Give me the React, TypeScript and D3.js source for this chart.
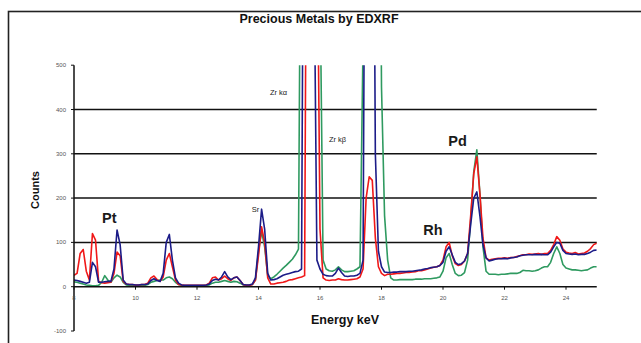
import React from 'react';
import * as d3 from 'd3';

const chartTitle = 'Precious Metals by EDXRF';
const xAxisTitle = 'Energy keV';
const yAxisTitle = 'Counts';

// spectrum calibration: channel i is at energyStart + i * energyStep keV
const energyStart = 8;
const energyStep = 0.1;

const redCounts = [
  26, 30, 75, 84, 35, 15, 120, 105, 12, 9,
  8, 9, 10, 30, 78, 70, 12, 6, 5, 5,
  4, 4, 5, 5, 8, 20, 24, 16, 12, 22,
  60, 75, 45, 15, 5, 4, 3, 3, 3, 3,
  3, 3, 3, 4, 8, 20, 22, 15, 18, 24,
  18, 14, 20, 22, 14, 5, 3, 3, 5, 15,
  70, 135, 100, 20, 6, 6, 8, 9, 10, 12,
  15, 16, 18, 20, 22, 25, 1500, 1500, 1500, 900,
  130, 20, 15, 14, 15, 15, 18, 16, 15, 15,
  16, 17, 18, 22, 40, 200, 248, 240, 110, 45,
  30, 25, 28, 28, 29, 30, 30, 31, 32, 32,
  33, 34, 36, 36, 38, 40, 42, 44, 45, 48,
  60, 90, 100, 70, 52, 48, 50, 58, 75, 160,
  255, 293, 210, 110, 65, 60, 62, 63, 64, 64,
  65, 64, 66, 66, 68, 70, 72, 72, 74, 73,
  74, 75, 73, 75, 75, 82, 95, 113, 105, 85,
  78, 76, 75, 77, 74, 75, 76, 80, 86, 95,
  98,
];

const blueCounts = [
  15, 14, 12, 10, 8, 10, 55, 45, 10, 10,
  11, 12, 12, 40, 128, 95, 15, 6, 5, 5,
  4, 4, 5, 5, 6, 14, 18, 14, 12, 30,
  100, 118, 60, 20, 8, 4, 3, 3, 3, 3,
  3, 3, 3, 4, 6, 14, 17, 15, 22, 34,
  22, 16, 20, 22, 14, 5, 4, 4, 6, 20,
  90, 175, 130, 30, 15, 16, 18, 22, 26, 28,
  30, 32, 34, 35, 40, 1500, 1500, 1500, 800, 60,
  40, 28, 25, 24, 24, 30, 42, 32, 24, 23,
  24, 24, 26, 30, 60, 1500, 1500, 1500, 300, 80,
  45, 33, 32, 32, 33, 33, 34, 34, 34, 35,
  35, 36, 37, 38, 40, 41, 43, 44, 45, 48,
  55, 80, 90, 72, 55, 50, 52, 58, 75, 140,
  200, 214, 160, 95, 65, 58, 60, 62, 63, 63,
  64, 63, 65, 66, 67, 70, 71, 72, 72, 72,
  73, 72, 73, 72, 72, 78, 90, 100, 98, 82,
  75, 74, 73, 74, 72, 73, 73, 75, 78, 82,
  83,
];

const greenCounts = [
  11, 10, 8, 6, 4, 3, 2, 2, 3, 10,
  25, 15, 10, 20, 26, 22, 10, 4, 3, 2,
  2, 2, 3, 3, 5, 10, 12, 14, 15, 15,
  20, 22, 18, 10, 5, 3, 2, 2, 2, 2,
  2, 2, 2, 3, 4, 8, 10, 10, 12, 14,
  12, 10, 12, 11, 8, 4, 3, 3, 5, 15,
  80, 125, 90, 25, 18, 22, 28, 35, 42, 48,
  55, 62, 72, 85, 1200, 1500, 1500, 1500, 1500, 1500,
  700, 60, 40, 36, 35, 38, 45, 38, 34, 34,
  35, 36, 40, 45, 550, 1500, 1500, 1500, 1500, 1500,
  450, 160, 60, 20, 15, 15, 16, 16, 16, 16,
  16, 17, 17, 17, 18, 18, 18, 19, 20, 22,
  35, 65, 75, 50, 30, 25, 26, 32, 60, 150,
  260, 309, 210, 90, 35, 28, 28, 28, 27, 28,
  28, 29, 30, 30, 30, 32, 37, 36, 36, 35,
  36, 38, 42, 45, 45, 55, 75, 90, 75, 50,
  42, 40, 38, 38, 37, 36, 37, 38, 42, 45,
  45,
];

const xTicks = [8, 10, 12, 14, 16, 18, 20, 22, 24];
const yTicks = [-100, 0, 100, 200, 300, 400, 500];
const gridLevels = [100, 200, 300, 400];

const peakLabels = [
  { text: 'Pt', energy: 8.91, counts: 144, big: true },
  { text: 'Sr', energy: 13.78, counts: 169, big: false },
  { text: 'Zr kα', energy: 14.37, counts: 433, big: false },
  { text: 'Zr kβ', energy: 16.29, counts: 327, big: false },
  { text: 'Rh', energy: 19.36, counts: 117, big: true },
  { text: 'Pd', energy: 20.17, counts: 318, big: true },
];

const W = 641;
const H = 343;
const left = 74;
const right = 596.75;
const top = 65.2;
const bottom = 331;

export default function App() {
  const x = d3.scaleLinear().domain([8, 25]).range([left, right]);
  const y = d3.scaleLinear().domain([-100, 500]).range([bottom, top]);

  const line = d3
    .line<number>()
    .x((_, i) => x(energyStart + i * energyStep))
    .y((d) => y(d));

  const series = [
    { name: 'green', values: greenCounts, color: '#2f9a60' },
    { name: 'red', values: redCounts, color: '#f01818' },
    { name: 'blue', values: blueCounts, color: '#1c1c88' },
  ];

  const font = 'Arial, "Liberation Sans", Helvetica, sans-serif';

  return (
    <svg
      width={W}
      height={H}
      style={{ position: 'absolute', left: 0, top: 0, background: '#fff' }}
      fontFamily={font}
    >
      <defs>
        <clipPath id="plotClip">
          <rect x={left} y={top} width={right - left} height={bottom - top} />
        </clipPath>
      </defs>
      <rect x={8.5} y={11.5} width={700} height={400} fill="none" stroke="#222" strokeWidth={1.6} />

      <text x={319} y={23} textAnchor="middle" fontSize={12.5} fontWeight="bold" fill="#111">
        {chartTitle}
      </text>

      {gridLevels.map((v) => (
        <line key={v} x1={left} x2={right} y1={y(v)} y2={y(v)} stroke="#111" strokeWidth={1.5} />
      ))}

      <g clipPath="url(#plotClip)">
        {series.map((s) => (
          <path
            key={s.name}
            d={line(s.values) || ''}
            fill="none"
            stroke={s.color}
            strokeWidth={1.6}
            strokeLinejoin="round"
          />
        ))}
      </g>

      {/* axes */}
      <line x1={left} x2={left} y1={top} y2={bottom} stroke="#111" strokeWidth={1.5} />
      <line x1={left} x2={right} y1={y(0)} y2={y(0)} stroke="#111" strokeWidth={1.5} />
      {yTicks.map((v) => (
        <g key={v}>
          <line x1={left - 3} x2={left} y1={y(v)} y2={y(v)} stroke="#111" strokeWidth={1} />
          <text x={left - 8} y={y(v) + 2} textAnchor="end" fontSize={6} fill="#555">
            {v}
          </text>
        </g>
      ))}
      {xTicks.map((v) => (
        <g key={v}>
          <line x1={x(v)} x2={x(v)} y1={y(0)} y2={y(0) + 3} stroke="#111" strokeWidth={1} />
          <text x={x(v)} y={y(0) + 13} textAnchor="middle" fontSize={6} fill="#555">
            {v}
          </text>
        </g>
      ))}

      <text x={345} y={324} textAnchor="middle" fontSize={12.5} fontWeight="bold" fill="#111">
        {xAxisTitle}
      </text>
      <text
        transform={`translate(39, 190) rotate(-90)`}
        textAnchor="middle"
        fontSize={11}
        fontWeight="bold"
        fill="#111"
      >
        {yAxisTitle}
      </text>

      {peakLabels.map((p) => (
        <text
          key={p.text}
          x={x(p.energy)}
          y={y(p.counts)}
          fontSize={p.big ? 14.5 : 7.5}
          fontWeight={p.big ? 'bold' : 'normal'}
          fill={p.big ? '#1a1a1a' : '#222'}
        >
          {p.text}
        </text>
      ))}
    </svg>
  );
}
